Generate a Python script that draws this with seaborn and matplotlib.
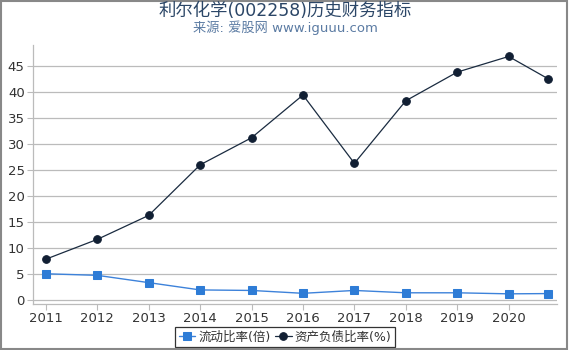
import matplotlib
matplotlib.use("Agg")
import matplotlib.pyplot as plt
import seaborn as sns
import pandas as pd
from matplotlib.patches import Rectangle

years = [2011, 2012, 2013, 2014, 2015, 2016, 2017, 2018, 2019, 2020, 2020.77]
tick_years = [2011, 2012, 2013, 2014, 2015, 2016, 2017, 2018, 2019, 2020]
tick_labels = [str(y) for y in tick_years]
current_ratio = [5.1, 4.8, 3.4, 2.0, 1.9, 1.35, 1.9, 1.45, 1.45, 1.25, 1.3]
debt_ratio = [7.9, 11.7, 16.3, 26.0, 31.2, 39.4, 26.3, 38.3, 43.8, 46.8, 42.5]
yticks = [0, 5, 10, 15, 20, 25, 30, 35, 40, 45]

sns.set_theme(style="white")
plt.rcParams['font.family'] = ['DejaVu Sans', 'Noto Sans CJK SC']

df = pd.DataFrame({"year": years, "cur": current_ratio, "debt": debt_ratio})

fig = plt.figure(figsize=(5.7, 3.5), dpi=100)
ax = fig.add_axes([33/570, 1 - 304/350, (557-33)/570, (304-45)/350])

sns.lineplot(data=df, x="year", y="cur", ax=ax, color="#3d82da", marker="s",
             markersize=5.5, markerfacecolor="#2e7cd6", markeredgecolor="#2e7cd6",
             linewidth=1, label="流动比率(倍)")
sns.lineplot(data=df, x="year", y="debt", ax=ax, color="#1a2b40", marker="o",
             markersize=5.5, markerfacecolor="#111f33", markeredgecolor="#111f33",
             linewidth=0.9, label="资产负债比率(%)")

ax.set_xlim(2010.75, 2020.94)
ax.set_ylim(-0.7, 49)
ax.set_xticks(tick_years)
ax.set_xticklabels(tick_labels)
ax.set_yticks(yticks)
ax.set_xlabel("")
ax.set_ylabel("")
ax.grid(axis="y", color="#bbbbbb", linewidth=0.9)
ax.set_axisbelow(True)
for s in ["top", "right"]:
    ax.spines[s].set_visible(False)
for s in ["left", "bottom"]:
    ax.spines[s].set_color("#bbbbbb")
    ax.spines[s].set_linewidth(0.9)
ax.tick_params(axis="both", labelsize=9.5, colors="#333333", length=4, width=0.8,
               color="#bbbbbb", left=True, bottom=True, pad=2)

leg = ax.legend(loc="center", bbox_to_anchor=(0.5, 1 - 337/350),
                bbox_transform=fig.transFigure, ncol=2, frameon=True,
                fontsize=9, handlelength=1.3, handletextpad=0.25, columnspacing=0.4,
                borderpad=0.3, borderaxespad=0, fancybox=False)
leg.get_frame().set_edgecolor("black")
leg.get_frame().set_linewidth(0.9)
for t in leg.get_texts():
    t.set_color("#333333")

fig.text(0.5, 1 - 11/350, "利尔化学(002258)历史财务指标", ha="center", va="center",
         fontsize=12.5, color="#2b4667")
fig.text(0.5, 1 - 28/350, "来源: 爱股网 www.iguuu.com", ha="center", va="center",
         fontsize=9.5, color="#5b7ba3")

fig.patches.append(Rectangle((0.002, 0.004), 0.993, 0.994, transform=fig.transFigure,
                             fill=False, edgecolor="#888888", linewidth=1.5))

fig.savefig("out.png", dpi=100)
